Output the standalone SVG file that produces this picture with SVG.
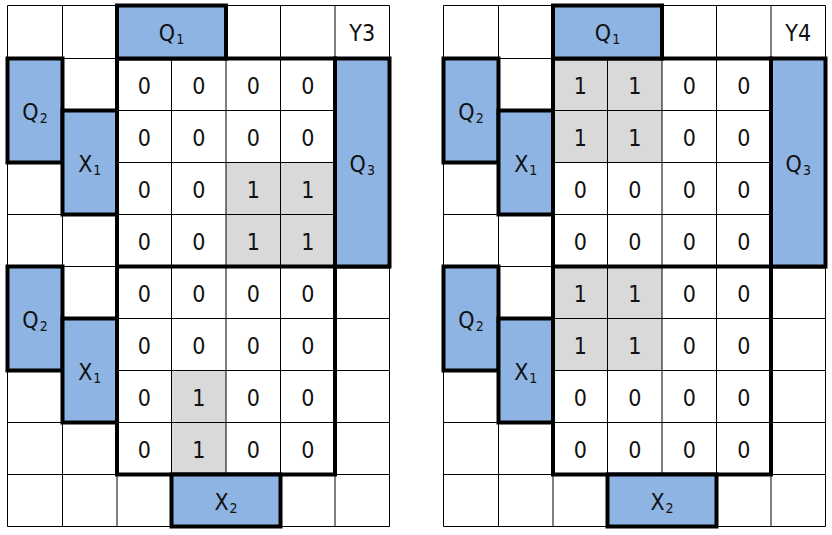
<svg xmlns="http://www.w3.org/2000/svg" width="832" height="535" viewBox="0 0 832 535">
<style>
.grid{fill:none;stroke:#000;stroke-width:1}
.thick{fill:none;stroke:#000;stroke-width:4}
.lab{fill:#8db4e2;stroke:#000;stroke-width:4}
.gray{fill:#d9d9d9}
text{font-family:"DejaVu Sans Condensed","DejaVu Sans",sans-serif;font-stretch:condensed;font-size:23px;fill:#111;text-anchor:middle}
.sub{font-size:14px}
</style>
<rect width="832" height="535" fill="#fff"/>

<g id="mapY3">
  <g id="y3-fills">
    <rect class="gray" x="226" y="162.5" width="109" height="104"/>
    <rect class="gray" x="171.5" y="370.5" width="54.5" height="104"/>
  </g>
  <path class="grid" d="M7.5 5.5V526.5M62.5 5.5V526.5M117 5.5V526.5M171.5 5.5V526.5M226 5.5V526.5M280.5 5.5V526.5M335 5.5V526.5M389.5 5.5V526.5M7.5 5.5H389.5M7.5 58.5H389.5M7.5 110.5H389.5M7.5 162.5H389.5M7.5 214.5H389.5M7.5 266.5H389.5M7.5 318.5H389.5M7.5 370.5H389.5M7.5 422.5H389.5M7.5 474.5H389.5M7.5 526.5H389.5"/>
  <rect class="thick" x="117" y="58.5" width="218" height="416"/>
  <line class="thick" x1="117" y1="266.5" x2="389.5" y2="266.5"/>
  <g id="y3-Q1"><rect class="lab" x="117" y="5.5" width="109" height="53"/><text x="171.5" y="41">Q<tspan class="sub" dx="1" dy="3">1</tspan></text></g>
  <g id="y3-Q2a"><rect class="lab" x="7.5" y="58.5" width="55" height="104"/><text x="35" y="119.5">Q<tspan class="sub" dx="1" dy="3">2</tspan></text></g>
  <g id="y3-X1a"><rect class="lab" x="62.5" y="110.5" width="54.5" height="104"/><text x="89.75" y="171.5">X<tspan class="sub" dx="1" dy="3">1</tspan></text></g>
  <g id="y3-Q2b"><rect class="lab" x="7.5" y="266.5" width="55" height="104"/><text x="35" y="327.5">Q<tspan class="sub" dx="1" dy="3">2</tspan></text></g>
  <g id="y3-X1b"><rect class="lab" x="62.5" y="318.5" width="54.5" height="104"/><text x="89.75" y="379.5">X<tspan class="sub" dx="1" dy="3">1</tspan></text></g>
  <g id="y3-Q3"><rect class="lab" x="335" y="58.5" width="54.5" height="208"/><text x="362.25" y="172">Q<tspan class="sub" dx="1" dy="3">3</tspan></text></g>
  <g id="y3-X2"><rect class="lab" x="171.5" y="474.5" width="109" height="52"/><text x="226" y="509.5">X<tspan class="sub" dx="1" dy="3">2</tspan></text></g>
  <g id="y3-title"><text x="362.25" y="41">Y3</text></g>
  <g id="y3-values">
    <text x="144.25" y="93.5">0</text><text x="198.75" y="93.5">0</text><text x="253.25" y="93.5">0</text><text x="307.75" y="93.5">0</text>
    <text x="144.25" y="145.5">0</text><text x="198.75" y="145.5">0</text><text x="253.25" y="145.5">0</text><text x="307.75" y="145.5">0</text>
    <text x="144.25" y="197.5">0</text><text x="198.75" y="197.5">0</text><text x="253.25" y="197.5">1</text><text x="307.75" y="197.5">1</text>
    <text x="144.25" y="249.5">0</text><text x="198.75" y="249.5">0</text><text x="253.25" y="249.5">1</text><text x="307.75" y="249.5">1</text>
    <text x="144.25" y="301.5">0</text><text x="198.75" y="301.5">0</text><text x="253.25" y="301.5">0</text><text x="307.75" y="301.5">0</text>
    <text x="144.25" y="353.5">0</text><text x="198.75" y="353.5">0</text><text x="253.25" y="353.5">0</text><text x="307.75" y="353.5">0</text>
    <text x="144.25" y="405.5">0</text><text x="198.75" y="405.5">1</text><text x="253.25" y="405.5">0</text><text x="307.75" y="405.5">0</text>
    <text x="144.25" y="457.5">0</text><text x="198.75" y="457.5">1</text><text x="253.25" y="457.5">0</text><text x="307.75" y="457.5">0</text>
  </g>
</g>

<g id="mapY4">
  <g id="y4-fills">
    <rect class="gray" x="553" y="58.5" width="109" height="104"/>
    <rect class="gray" x="553" y="266.5" width="109" height="104"/>
  </g>
  <path class="grid" d="M443.5 5.5V526.5M498.5 5.5V526.5M553 5.5V526.5M607.5 5.5V526.5M662 5.5V526.5M716.5 5.5V526.5M771 5.5V526.5M825.5 5.5V526.5M443.5 5.5H825.5M443.5 58.5H825.5M443.5 110.5H825.5M443.5 162.5H825.5M443.5 214.5H825.5M443.5 266.5H825.5M443.5 318.5H825.5M443.5 370.5H825.5M443.5 422.5H825.5M443.5 474.5H825.5M443.5 526.5H825.5"/>
  <rect class="thick" x="553" y="58.5" width="218" height="416"/>
  <line class="thick" x1="553" y1="266.5" x2="825.5" y2="266.5"/>
  <g id="y4-Q1"><rect class="lab" x="553" y="5.5" width="109" height="53"/><text x="607.5" y="41">Q<tspan class="sub" dx="1" dy="3">1</tspan></text></g>
  <g id="y4-Q2a"><rect class="lab" x="443.5" y="58.5" width="55" height="104"/><text x="471" y="119.5">Q<tspan class="sub" dx="1" dy="3">2</tspan></text></g>
  <g id="y4-X1a"><rect class="lab" x="498.5" y="110.5" width="54.5" height="104"/><text x="525.75" y="171.5">X<tspan class="sub" dx="1" dy="3">1</tspan></text></g>
  <g id="y4-Q2b"><rect class="lab" x="443.5" y="266.5" width="55" height="104"/><text x="471" y="327.5">Q<tspan class="sub" dx="1" dy="3">2</tspan></text></g>
  <g id="y4-X1b"><rect class="lab" x="498.5" y="318.5" width="54.5" height="104"/><text x="525.75" y="379.5">X<tspan class="sub" dx="1" dy="3">1</tspan></text></g>
  <g id="y4-Q3"><rect class="lab" x="771" y="58.5" width="54.5" height="208"/><text x="798.25" y="172">Q<tspan class="sub" dx="1" dy="3">3</tspan></text></g>
  <g id="y4-X2"><rect class="lab" x="607.5" y="474.5" width="109" height="52"/><text x="662" y="509.5">X<tspan class="sub" dx="1" dy="3">2</tspan></text></g>
  <g id="y4-title"><text x="798.25" y="41">Y4</text></g>
  <g id="y4-values">
    <text x="580.25" y="93.5">1</text><text x="634.75" y="93.5">1</text><text x="689.25" y="93.5">0</text><text x="743.75" y="93.5">0</text>
    <text x="580.25" y="145.5">1</text><text x="634.75" y="145.5">1</text><text x="689.25" y="145.5">0</text><text x="743.75" y="145.5">0</text>
    <text x="580.25" y="197.5">0</text><text x="634.75" y="197.5">0</text><text x="689.25" y="197.5">0</text><text x="743.75" y="197.5">0</text>
    <text x="580.25" y="249.5">0</text><text x="634.75" y="249.5">0</text><text x="689.25" y="249.5">0</text><text x="743.75" y="249.5">0</text>
    <text x="580.25" y="301.5">1</text><text x="634.75" y="301.5">1</text><text x="689.25" y="301.5">0</text><text x="743.75" y="301.5">0</text>
    <text x="580.25" y="353.5">1</text><text x="634.75" y="353.5">1</text><text x="689.25" y="353.5">0</text><text x="743.75" y="353.5">0</text>
    <text x="580.25" y="405.5">0</text><text x="634.75" y="405.5">0</text><text x="689.25" y="405.5">0</text><text x="743.75" y="405.5">0</text>
    <text x="580.25" y="457.5">0</text><text x="634.75" y="457.5">0</text><text x="689.25" y="457.5">0</text><text x="743.75" y="457.5">0</text>
  </g>
</g>
<g id="connectors"/>
</svg>
